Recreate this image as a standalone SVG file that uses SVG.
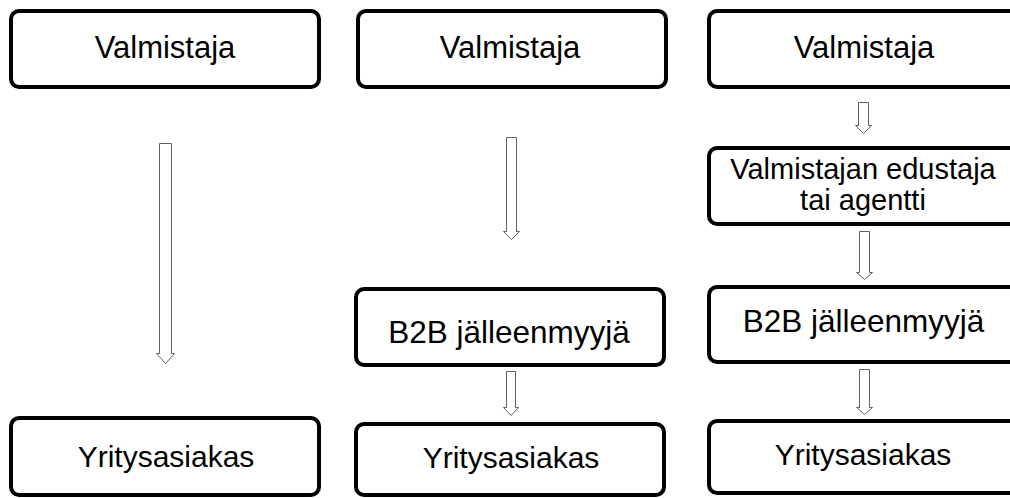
<svg xmlns="http://www.w3.org/2000/svg" width="1010" height="498" viewBox="0 0 1010 498">
<style>
.box{fill:#fff;stroke:#000;stroke-width:4}
.t{font-family:"Liberation Sans",Arial,sans-serif;fill:#000;text-anchor:middle}
.arr{fill:#fff;stroke:#606060;stroke-width:1}
</style>
<rect width="1010" height="498" fill="#fff"/>
<g id="connectors">
<path class="arr" d="M159.5,143.5 H171.5 V353.5 H174.5 L165.5,363.5 L156.5,353.5 H159.5 Z"/>
<path class="arr" d="M506.5,137.5 H516.5 V231.5 H519.5 L511.5,239.5 L503.5,231.5 H506.5 Z"/>
<path class="arr" d="M506.5,371.5 H515.5 V407.5 H518.5 L511,415.5 L503.5,407.5 H506.5 Z"/>
<path class="arr" d="M858.5,102.5 H868.5 V125.5 H871.5 L863.5,133.5 L855.5,125.5 H858.5 Z"/>
<path class="arr" d="M859.5,231.5 H869.5 V272.5 H872.5 L864.5,279.5 L856.5,272.5 H859.5 Z"/>
<path class="arr" d="M859.5,369.5 H869.5 V407.5 H872.5 L864.5,414.5 L856.5,407.5 H859.5 Z"/>
</g>
<g id="n1"><rect class="box" x="11" y="11" width="308" height="76" rx="8"/><text class="t" x="165" y="58" font-size="31">Valmistaja</text></g>
<g id="n2"><rect class="box" x="11" y="418" width="308" height="77" rx="8"/><text class="t" x="166" y="467" font-size="30">Yritysasiakas</text></g>
<g id="n3"><rect class="box" x="358" y="11" width="308" height="76" rx="8"/><text class="t" x="510" y="58" font-size="31">Valmistaja</text></g>
<g id="n4"><rect class="box" x="356" y="289" width="308" height="76" rx="8"/><text class="t" x="509" y="343" font-size="31.5">B2B jälleenmyyjä</text></g>
<g id="n5"><rect class="box" x="356" y="424" width="308" height="71" rx="8"/><text class="t" x="511" y="468" font-size="30">Yritysasiakas</text></g>
<g id="n6"><rect class="box" x="709" y="11" width="320" height="76" rx="8"/><text class="t" x="864" y="58" font-size="31">Valmistaja</text></g>
<g id="n7"><rect class="box" x="709" y="148" width="320" height="76" rx="8"/><text class="t" x="863" y="179" font-size="29">Valmistajan edustaja</text><text class="t" x="863" y="210" font-size="29">tai agentti</text></g>
<g id="n8"><rect class="box" x="709" y="287" width="320" height="75" rx="8"/><text class="t" x="863.5" y="332" font-size="31.5">B2B jälleenmyyjä</text></g>
<g id="n9"><rect class="box" x="709" y="421" width="320" height="72" rx="8"/><text class="t" x="863" y="465" font-size="30">Yritysasiakas</text></g>
</svg>
